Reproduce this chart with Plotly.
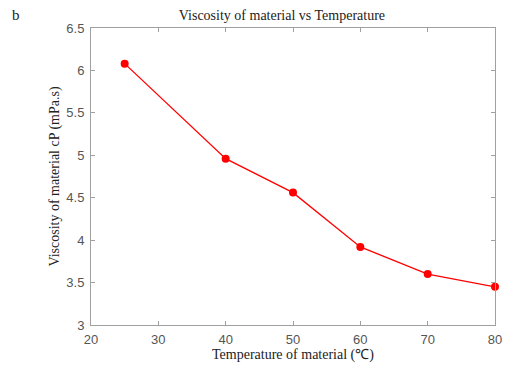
import plotly.graph_objects as go

temperature = [25, 40, 50, 60, 70, 80]
viscosity = [6.08, 4.96, 4.56, 3.92, 3.60, 3.45]
x_ticks = [20, 30, 40, 50, 60, 70, 80]
y_ticks = [3, 3.5, 4, 4.5, 5, 5.5, 6, 6.5]

fig = go.Figure()
fig.add_trace(go.Scatter(
    x=temperature, y=viscosity, mode="lines+markers",
    line=dict(color="#ff0000", width=1.3),
    marker=dict(color="#ff0000", size=8),
    showlegend=False, cliponaxis=False,
))

axis_common = dict(
    showgrid=False, zeroline=False, showline=True, linecolor="#a0a0a0", linewidth=1,
    mirror="ticks", ticks="inside", ticklen=4, tickcolor="#a0a0a0",
    tickfont=dict(family="Liberation Sans, Arial", size=13, color="#555555"),
    automargin=False,
)
fig.update_xaxes(range=[20, 80], tickvals=x_ticks, ticktext=[str(v) for v in x_ticks],
                 ticklabelstandoff=2,
                 title=dict(text="Temperature of material (℃)", standoff=2,
                            font=dict(family="Liberation Serif, Times New Roman", size=14, color="#222222")),
                 **axis_common)
fig.update_yaxes(range=[3, 6.5], tickvals=y_ticks, ticktext=[("%g" % v) for v in y_ticks],
                 ticklabelstandoff=3,
                 title=dict(text="Viscosity of material cP (mPa.s)", standoff=3,
                            font=dict(family="Liberation Serif, Times New Roman", size=14, color="#222222")),
                 **axis_common)

fig.update_layout(
    width=508, height=366,
    margin=dict(l=91, r=13, t=28, b=41),
    paper_bgcolor="white", plot_bgcolor="white",
    title=dict(text="Viscosity of material vs Temperature", x=0.555, xanchor="center",
               y=0.96, yanchor="middle",
               font=dict(family="Liberation Serif, Times New Roman", size=14, color="#222222")),
    annotations=[dict(text="b", xref="paper", yref="paper", x=-0.2, y=1.045,
                      xanchor="left", yanchor="middle", showarrow=False,
                      font=dict(family="Liberation Serif, Times New Roman", size=15, color="#222222"))],
)

fig.write_html("out.html", config={"displayModeBar": False},
               post_script="document.body.style.margin='0';")
